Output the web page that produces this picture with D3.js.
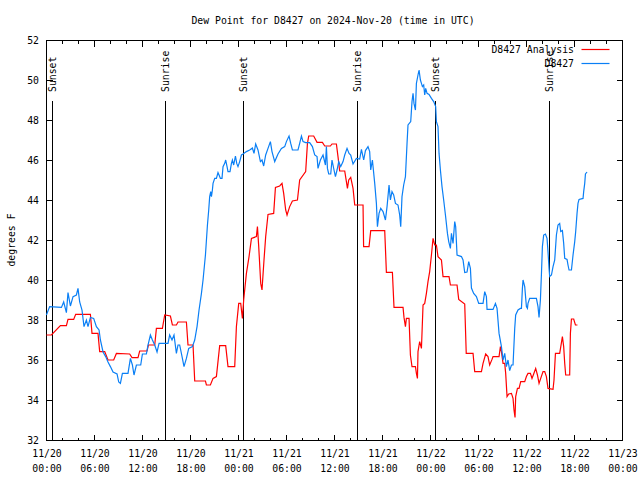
<!DOCTYPE html>
<html><head><meta charset="utf-8">
<script src="https://cdn.jsdelivr.net/npm/d3@7"></script>
<style>
body{margin:0;background:#fff;}
svg{display:block;font-family:"DejaVu Sans Mono",monospace;}
</style></head>
<body><svg id="c" width="640" height="480"></svg>
<script>
const title = "Dew Point for D8427 on 2024-Nov-20 (time in UTC)";
const yLabel = "degrees F";
const seriesNames = ["D8427 Analysis", "D8427"];
const seriesColors = ["#ff0000", "#0a7ff5"];
const yTicks = [32,34,36,38,40,42,44,46,48,50,52];
const eventNames = ["Sunset","Sunrise","Sunset","Sunrise","Sunset","Sunrise"];
const eventHours = [0.75, 14.88, 24.63, 38.9, 48.67, 62.88];

// hours after 2024-11-20 00:00 UTC
const analysisHours = [0.05,0.68,1.8,2.55,2.75,3.46,3.71,5.55,5.75,6.5,6.71,7.34,7.75,8.46,8.8,10.46,10.75,11.5,11.71,12.63,12.8,13.59,13.8,14.55,14.84,15.55,15.8,16.3,16.5,17.55,17.75,18.38,18.59,19.93,20.05,20.55,20.88,21.3,21.71,22.46,22.75,23.59,23.8,24.09,24.34,24.55,24.71,25.05,25.38,25.68,26.3,26.43,26.59,26.84,27.0,27.25,27.46,27.75,28.46,28.68,29.21,29.5,29.71,29.96,30.13,30.46,30.8,31.43,31.71,32.46,32.68,32.84,33.46,33.88,34.55,34.84,35.55,35.75,36.3,36.5,36.71,37.34,37.55,37.68,37.84,38.09,38.38,38.59,39.63,39.7,40.38,40.59,42.34,42.55,43.3,43.5,44.63,44.75,44.93,45.05,45.38,45.55,45.75,46.18,46.3,46.43,46.5,46.71,46.93,47.13,47.34,47.55,47.75,47.96,48.18,48.38,48.59,48.8,49.0,49.43,49.63,50.38,50.55,51.38,51.59,52.34,52.53,53.38,53.59,54.43,54.63,54.96,55.25,55.46,55.75,55.88,56.63,56.8,56.93,57.13,57.34,57.46,57.63,57.84,58.18,58.38,58.5,58.63,58.71,58.93,59.13,59.34,59.84,60.05,60.25,60.55,60.75,60.96,61.21,61.43,61.63,61.84,62.13,62.34,62.55,62.75,63.38,63.5,63.68,64.21,64.43,64.55,64.71,64.84,64.96,65.46,65.55,65.68,65.96,66.18,66.43];
const analysisValues = [37.25,37.25,37.72,37.72,38.03,38.03,38.28,38.28,37.33,37.33,36.42,36.42,36.0,36.0,36.33,36.3,36.12,36.12,36.45,36.45,36.75,36.75,37.58,37.58,38.25,38.2,37.75,37.75,37.9,37.9,36.75,36.75,34.95,34.95,34.75,34.75,35.08,35.17,36.72,36.72,35.67,35.67,37.67,38.83,38.83,38.08,39.0,40.33,41.17,42.08,42.17,42.67,41.67,39.83,39.5,41.0,42.17,43.28,43.33,44.63,44.7,44.83,44.33,43.5,43.25,43.67,43.95,44.0,45.0,45.42,46.83,47.2,47.2,46.88,46.88,46.7,46.7,46.8,46.8,46.17,45.45,45.45,44.92,44.58,45.0,45.13,44.58,43.75,43.75,41.67,41.67,42.47,42.47,40.38,40.38,38.63,38.63,38.13,37.67,38.08,38.08,36.25,35.67,35.67,35.33,35.08,36.42,36.92,36.58,38.75,38.83,39.33,39.92,40.42,41.25,42.08,41.75,41.75,41.17,41.0,40.17,40.17,39.75,39.75,39.03,38.8,36.33,36.33,35.42,35.42,35.83,36.3,36.17,35.75,36.03,36.17,36.17,36.67,36.42,35.83,35.83,35.33,34.17,34.3,34.33,34.08,33.5,33.13,34.17,34.58,34.58,34.92,34.92,35.17,35.33,35.33,35.08,35.3,35.58,35.25,34.83,35.08,35.42,35.42,35.17,34.58,34.53,35.0,36.33,36.33,36.87,37.17,36.67,35.83,35.25,35.25,37.33,38.05,38.05,37.75,37.75];

const obsHours = [0.05,0.46,1.93,2.21,2.55,2.75,3.05,3.38,3.8,4.0,4.21,4.5,4.75,5.05,5.25,5.55,5.96,6.3,6.63,6.8,7.13,7.46,7.75,8.05,8.38,8.88,9.09,9.3,9.55,10.25,10.55,10.8,11.0,11.3,11.84,12.05,12.55,12.75,13.05,13.3,13.59,13.88,14.13,15.25,15.46,15.75,16.0,16.3,16.5,16.71,17.05,17.25,17.55,17.84,18.3,18.59,18.88,19.13,19.43,19.63,19.93,20.18,20.34,20.46,20.59,20.68,20.8,20.88,21.09,21.3,21.5,21.63,21.8,22.0,22.13,22.34,22.46,22.63,22.75,23.0,23.18,23.3,23.46,23.68,23.84,24.0,24.21,24.43,24.63,25.05,25.46,25.8,26.0,26.21,26.5,26.8,27.0,27.21,27.46,27.75,28.05,28.25,28.59,29.0,29.43,29.84,30.05,30.38,30.59,30.8,31.5,31.71,31.93,32.13,32.46,32.96,33.3,33.59,33.88,34.0,34.3,34.63,34.93,35.05,35.18,35.34,35.59,35.75,36.0,36.18,36.38,36.59,36.84,37.13,37.34,37.63,37.88,38.09,38.38,38.8,39.21,39.43,39.71,39.93,40.25,40.46,40.59,40.8,41.09,41.3,41.43,41.63,41.84,42.13,42.43,42.63,42.88,43.05,43.25,43.46,43.68,44.0,44.21,44.34,44.5,44.71,44.93,45.13,45.25,45.59,45.75,45.88,46.0,46.18,46.3,46.5,46.63,46.8,46.93,47.05,47.21,47.34,47.46,47.63,47.88,48.18,48.46,48.71,48.8,49.0,49.13,49.3,49.5,49.71,49.93,50.18,50.34,50.55,50.68,50.88,51.09,51.21,51.38,51.93,52.13,52.34,52.63,52.84,53.05,53.18,53.46,53.8,54.09,54.63,54.84,55.05,55.13,55.88,56.18,56.38,56.63,56.93,57.13,57.34,57.55,57.75,57.96,58.18,58.38,58.59,58.71,59.0,59.3,59.43,59.55,59.63,59.84,60.05,60.18,60.25,60.46,61.3,61.5,61.63,61.8,61.93,62.05,62.21,62.43,62.63,62.75,62.88,62.96,63.18,63.38,63.59,63.8,64.0,64.21,64.34,64.55,64.71,64.84,65.13,65.25,65.38,65.68,65.88,66.09,66.21,66.38,66.5,66.63,67.13,67.21,67.34,67.43,67.63];
const obsValues = [38.25,38.67,38.63,38.9,38.37,39.37,38.7,39.17,39.25,39.58,38.9,38.5,37.67,38.0,37.67,38.13,38.08,37.67,37.5,37.0,36.4,36.17,35.9,35.67,35.4,35.3,34.9,34.83,35.33,35.33,36.08,35.75,35.25,35.75,35.75,36.3,36.3,36.75,37.25,37.0,36.75,36.4,36.83,36.83,37.25,37.0,37.25,36.33,36.75,36.75,36.08,35.67,36.08,36.58,36.67,37.0,37.67,38.5,39.33,40.0,41.25,42.75,43.5,44.17,44.42,44.17,44.5,44.83,45.08,45.08,45.37,45.25,45.08,45.08,45.67,45.83,46.0,45.67,45.42,45.42,45.83,46.0,45.75,46.2,45.83,45.67,45.92,46.25,46.3,46.42,46.5,46.6,46.33,46.8,46.5,45.92,46.0,45.7,46.25,46.58,46.92,46.42,45.92,46.3,46.58,46.67,46.92,47.2,46.83,46.5,46.5,46.83,47.2,46.92,46.87,46.87,46.67,46.25,46.17,45.58,46.0,46.25,45.75,46.67,45.58,45.3,45.3,46.0,45.5,45.17,45.5,45.92,45.67,45.92,46.25,46.58,46.33,46.25,45.8,46.08,46.05,46.53,46.0,46.47,46.67,46.42,45.5,46.0,44.83,43.83,42.67,43.33,43.58,43.42,43.0,43.67,44.75,44.0,44.42,44.25,43.83,43.75,43.25,42.67,44.17,44.75,45.17,46.83,47.75,47.92,48.92,49.33,48.83,48.5,49.83,50.25,50.5,50.0,49.83,49.67,49.75,49.25,49.58,49.33,49.28,49.08,48.92,48.67,47.92,47.67,46.33,45.5,44.67,44.0,43.25,42.33,41.92,41.58,42.33,41.83,42.92,42.67,41.25,41.17,41.0,40.37,40.4,40.92,40.58,39.6,39.33,39.17,38.83,38.83,39.42,39.17,38.53,38.53,38.83,38.58,37.33,36.67,36.0,36.33,35.67,36.0,35.47,35.75,35.75,37.58,38.25,38.5,38.58,38.58,39.58,40.0,39.67,38.67,38.58,38.83,39.08,39.08,38.67,38.13,39.0,40.3,41.67,42.25,42.3,42.08,41.42,40.58,40.17,40.25,40.67,41.0,42.25,42.75,42.83,42.42,42.47,41.83,41.08,41.03,40.75,40.5,40.5,41.25,41.92,42.42,43.33,43.83,44.03,44.08,44.42,44.83,45.3,45.4];

const t0 = Date.UTC(2024,10,20);
const toDate = h => new Date(t0 + h*3600000);

const svg = d3.select("#c");
const L=46, R=622, T=40, B=440;
const x = d3.scaleUtc().domain([new Date(t0), new Date(t0+72*3600000)]).range([L, R]);
const y = d3.scaleLinear().domain([32,52]).range([B, T]);

svg.append("text").attr("x",333).attr("y",24).attr("text-anchor","middle")
  .attr("font-size","9.8px").text(title);

svg.append("text").attr("transform","translate(15,240) rotate(-90)")
  .attr("text-anchor","middle").attr("font-size","9.8px").text(yLabel);

const g = svg.append("g").attr("transform","translate(0.5,0.5)");

// ticks
const minorT = d3.range(0,73,2).map(toDate);
function xt(len, yy, dir){
  g.append("g").selectAll("line").data(minorT).join("line")
   .attr("x1",d=>Math.round(x(d))).attr("x2",d=>Math.round(x(d)))
   .attr("y1",yy).attr("y2",d=>yy+dir*(d.getUTCHours()%6===0?len:len/2))
   .attr("stroke","#000").attr("shape-rendering","crispEdges");
}
xt(6,B,-1); xt(6,T,1);
g.append("g").selectAll("line").data(yTicks).join("line")
  .attr("x1",L).attr("x2",L+6).attr("y1",d=>Math.round(y(d))).attr("y2",d=>Math.round(y(d)))
  .attr("stroke","#000").attr("shape-rendering","crispEdges");
g.append("g").selectAll("line").data(yTicks).join("line")
  .attr("x1",R).attr("x2",R-6).attr("y1",d=>Math.round(y(d))).attr("y2",d=>Math.round(y(d)))
  .attr("stroke","#000").attr("shape-rendering","crispEdges");

// y labels
svg.append("g").selectAll("text").data(yTicks).join("text")
  .attr("x",39).attr("y",d=>y(d)+4).attr("text-anchor","end").attr("font-size","9.8px")
  .text(d=>d);
// x labels
const majT = d3.range(0,73,6).map(toDate);
const fmtD = d3.utcFormat("%m/%d"), fmtH = d3.utcFormat("%H:%M");
const xl = svg.append("g").selectAll("text").data(majT).join("text")
  .attr("text-anchor","middle").attr("font-size","9.8px");
xl.append("tspan").attr("x",d=>x(d)+1).attr("y",457).text(fmtD);
xl.append("tspan").attr("x",d=>x(d)+1).attr("y",472).text(fmtH);

// event lines
const ev = eventHours.map((h,i)=>({d:toDate(h),n:eventNames[i]}));
g.append("g").selectAll("line").data(ev).join("line")
  .attr("x1",d=>Math.round(x(d.d))).attr("x2",d=>Math.round(x(d.d)))
  .attr("y1",100).attr("y2",B).attr("stroke","#000").attr("shape-rendering","crispEdges");
svg.append("g").selectAll("text").data(ev).join("text")
  .attr("transform",d=>`translate(${Math.round(x(d.d))+4},92) rotate(-90)`)
  .attr("text-anchor","start").attr("font-size","9.8px").text(d=>d.n);

// series
const line = d3.line().x(d=>x(d[0])).y(d=>y(d[1]));
const red = analysisHours.map((h,i)=>[toDate(h),analysisValues[i]]);
const blue = obsHours.map((h,i)=>[toDate(h),obsValues[i]]);
svg.append("path").datum(red).attr("d",line).attr("fill","none")
  .attr("stroke",seriesColors[0]).attr("stroke-width",1.2);
svg.append("path").datum(blue).attr("d",line).attr("fill","none")
  .attr("stroke",seriesColors[1]).attr("stroke-width",1.2);

// border
g.append("rect").attr("x",L).attr("y",T).attr("width",R-L).attr("height",B-T)
  .attr("fill","none").attr("stroke","#000").attr("shape-rendering","crispEdges");

// legend
const legY = [49, 63];
seriesNames.forEach((n,i)=>{
  svg.append("text").attr("x",574).attr("y",legY[i]+4).attr("text-anchor","end")
    .attr("font-size","9.8px").text(n);
  g.append("line").attr("x1",581).attr("x2",609).attr("y1",legY[i]).attr("y2",legY[i])
    .attr("stroke",seriesColors[i]).attr("stroke-width",1.2);
});
</script></body></html>
